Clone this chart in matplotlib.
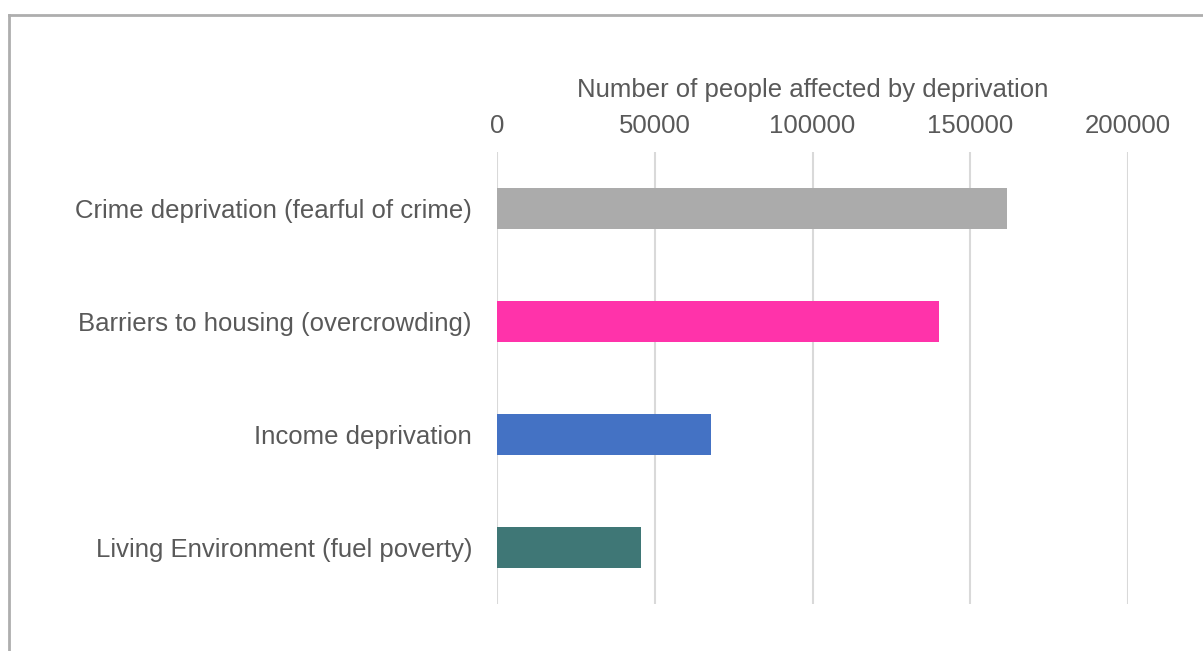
import matplotlib.pyplot as plt
from matplotlib.lines import Line2D

plt.rcParams['font.family'] = ['Liberation Sans', 'DejaVu Sans']

# deprivation domains, top to bottom
categories = ['Crime deprivation (fearful of crime)',
              'Barriers to housing (overcrowding)',
              'Income deprivation',
              'Living Environment (fuel poverty)']
people = [161600, 140100, 67800, 45600]
colors = ['#ABABAB', '#FF33AA', '#4472C4', '#3F7776']
xticks = [0, 50000, 100000, 150000, 200000]

W, H = 1203, 651
fig = plt.figure(figsize=(W / 100, H / 100), dpi=100)
ax = fig.add_axes([497 / W, 1 - 604 / H, (1128 - 497) / W, (604 - 152) / H])

ax.barh(range(len(categories)), people, height=0.354, color=colors, zorder=3)
ax.set_ylim(len(categories) - 0.5, -0.5)
ax.set_xlim(0, 200000)

ax.set_yticks(range(len(categories)))
ax.set_yticklabels(categories)
ax.set_xticks(xticks)
ax.set_xticklabels([str(t) for t in xticks])
ax.xaxis.tick_top()
ax.xaxis.set_label_position('top')
ax.set_xlabel('Number of people affected by deprivation', fontsize=18.5,
              color='#595959', labelpad=12.5)

ax.tick_params(axis='both', length=0, labelsize=18.5, labelcolor='#595959')
ax.tick_params(axis='x', pad=10)
ax.tick_params(axis='y', pad=18)
ax.grid(axis='x', color='#D9D9D9', linewidth=1.5, zorder=0)
for s in ax.spines.values():
    s.set_visible(False)

# chart frame (top and left edges)
fig.add_artist(Line2D([9 / W, 9 / W], [1 - 15 / H, 0], color='#AEAEAE', linewidth=2))
fig.add_artist(Line2D([9 / W, 1], [1 - 15 / H, 1 - 15 / H], color='#AEAEAE', linewidth=2))

fig.savefig('out.png', dpi=100)
